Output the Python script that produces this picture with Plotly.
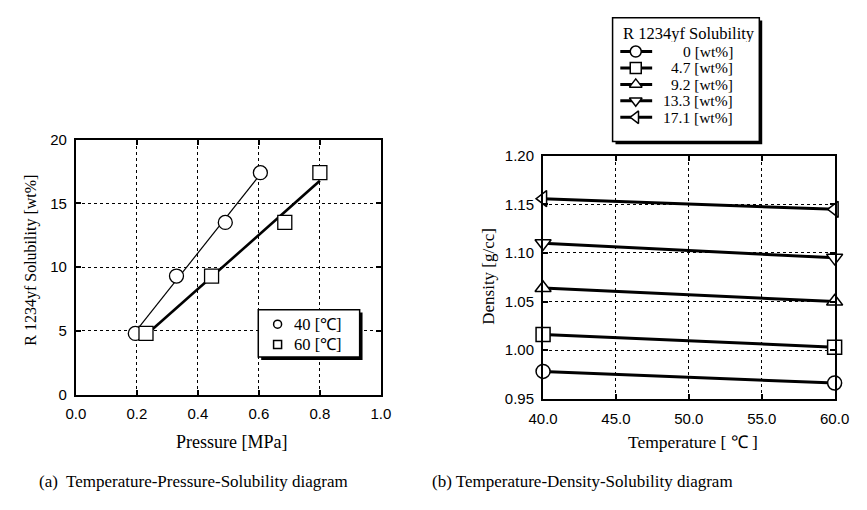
import numpy as np
import plotly.graph_objects as go

W, H = 867, 510

# ---------- data: (a) Temperature-Pressure-Solubility ----------
p40 = [0.195, 0.33, 0.49, 0.605]
s40 = [4.8, 9.3, 13.5, 17.4]
p60 = [0.23, 0.445, 0.685, 0.80]
s60 = [4.8, 9.3, 13.5, 17.4]
temp_labels_a = ["40 [℃]", "60 [℃]"]
symbols_a = ["circle", "square"]

# ---------- data: (b) Temperature-Density-Solubility ----------
temps = [40.0, 60.0]
sol_labels = ["0", "4.7", "9.2", "13.3", "17.1"]
dens_0 = [0.978, 0.966]
dens_47 = [1.016, 1.003]
dens_92 = [1.064, 1.050]
dens_133 = [1.110, 1.095]
dens_171 = [1.156, 1.145]
symbols_b = ["circle", "square", "triangle-up", "triangle-down", "triangle-left"]

SERIF = "Liberation Serif, Times New Roman, serif"
SANS = "Liberation Sans, Arial, sans-serif"


def px(x):
    return x / W


def py(y):
    return 1 - y / H


fig = go.Figure()


# fitted straight lines for (a)
def fit_line(x, y):
    k, b = np.polyfit(x, y, 1)
    xs = [min(x), max(x)]
    return xs, [k * v + b for v in xs]


lx, ly = fit_line(p40, s40)
fig.add_trace(go.Scatter(x=lx, y=ly, mode="lines", line=dict(color="black", width=1.2),
                         xaxis="x", yaxis="y", hoverinfo="skip"))
lx, ly = fit_line(p60, s60)
fig.add_trace(go.Scatter(x=lx, y=ly, mode="lines", line=dict(color="black", width=2.6),
                         xaxis="x", yaxis="y", hoverinfo="skip"))

for xs, ys, sym, nm in zip([p40, p60], [s40, s60], symbols_a, temp_labels_a):
    fig.add_trace(go.Scatter(x=xs, y=ys, mode="markers", cliponaxis=False, name=nm,
                             marker=dict(symbol=sym, size=14, color="white",
                                         line=dict(color="black", width=1.3)),
                             xaxis="x", yaxis="y"))

# (b)
series = [dens_0, dens_47, dens_92, dens_133, dens_171]
for lab, d, sym in zip(sol_labels, series, symbols_b):
    fig.add_trace(go.Scatter(x=temps, y=d, mode="lines+markers", cliponaxis=False,
                             name=f"{lab} [wt%]",
                             line=dict(color="black", width=3),
                             marker=dict(symbol=sym, size=14, color="white",
                                         line=dict(color="black", width=1.5)),
                             xaxis="x2", yaxis="y2"))

axis_common = dict(showline=True, linecolor="black", linewidth=2, mirror="ticks",
                   ticks="inside", ticklen=5, tickwidth=1.5, tickcolor="black",
                   showgrid=True, gridcolor="black", gridwidth=0.8, griddash="dot",
                   zeroline=False, tickfont=dict(family=SANS, size=15, color="black"))

fig.update_layout(
    width=W, height=H, margin=dict(l=0, r=0, t=0, b=0),
    paper_bgcolor="white", plot_bgcolor="rgba(0,0,0,0)", showlegend=False,
    xaxis=dict(domain=[px(63), px(379)], range=[0, 1], dtick=0.2, tickformat=".1f",
               anchor="y", ticklabelstandoff=4, **axis_common),
    yaxis=dict(domain=[py(399), py(135)], range=[0, 20], dtick=5, anchor="x",
               ticklabelstandoff=4, **axis_common),
    xaxis2=dict(domain=[px(547), px(849)], range=[40, 60], dtick=5, tickformat=".1f",
                anchor="y2", ticklabelstandoff=5, **axis_common),
    yaxis2=dict(domain=[py(403), py(152)], range=[0.95, 1.20], dtick=0.05, tickformat=".2f",
                anchor="x2", ticklabelstandoff=4, **axis_common),
    # overlay axes in pixel units, used only to place the legend boxes and glyphs
    xaxis3=dict(domain=[0, 1], range=[0, W], visible=False, anchor="y3", fixedrange=True),
    yaxis3=dict(domain=[0, 1], range=[H, 0], visible=False, anchor="x3", fixedrange=True),
)


# legend boxes with shadows (pixel coordinates on the overlay axes)
def box(x0, y0, x1, y1, off=3):
    fig.add_shape(type="rect", xref="x3", yref="y3", layer="below",
                  x0=x0 + off, x1=x1 + off, y0=y0 + off, y1=y1 + off,
                  fillcolor="black", line=dict(width=0))
    fig.add_shape(type="rect", xref="x3", yref="y3", layer="below",
                  x0=x0, x1=x1, y0=y0, y1=y1,
                  fillcolor="white", line=dict(color="black", width=1.5))


box(252, 311, 357, 360)
box(619, 9, 771, 137)

# ---- legend (a) content ----
rows_a = [326, 347]
for sym, lab, ry in zip(symbols_a, temp_labels_a, rows_a):
    fig.add_trace(go.Scatter(x=[272], y=[ry], mode="markers", xaxis="x3", yaxis="y3",
                             marker=dict(symbol=sym, size=8, color="white",
                                         line=dict(color="black", width=1.5)),
                             hoverinfo="skip", cliponaxis=False))
    fig.add_annotation(text=lab, x=px(287), y=py(ry), xref="paper", yref="paper",
                       showarrow=False, xanchor="left", yanchor="middle", height=20,
                       valign="middle",
                       font=dict(family=SERIF, size=16.5, color="black"))

# ---- legend (b) content ----
fig.add_annotation(text="R 1234yf Solubility", x=px(628), y=py(25), xref="paper", yref="paper",
                   showarrow=False, xanchor="left", yanchor="middle", height=18,
                   font=dict(family=SERIF, size=16.5, color="black"))
rows_b = [44, 61, 78, 95, 112]
for sym, lab, ry in zip(symbols_b, sol_labels, rows_b):
    fig.add_trace(go.Scatter(x=[627, 660], y=[ry, ry], mode="lines", xaxis="x3", yaxis="y3",
                             line=dict(color="black", width=3), hoverinfo="skip",
                             cliponaxis=False))
    fig.add_trace(go.Scatter(x=[643], y=[ry], mode="markers", xaxis="x3", yaxis="y3",
                             marker=dict(symbol=sym, size=11, color="white",
                                         line=dict(color="black", width=1.5)),
                             hoverinfo="skip", cliponaxis=False))
    fig.add_annotation(text=f"{lab} [wt%]", x=px(746), y=py(ry), xref="paper", yref="paper",
                       showarrow=False, xanchor="right", yanchor="middle", height=17,
                       font=dict(family=SERIF, size=15.5, color="black"))

ann = [
    dict(text="R 1234yf Solubility [wt%]", x=px(17), y=py(260), textangle=-90, size=16),
    dict(text="Pressure [MPa]", x=px(224), y=py(448), size=18),
    dict(text="Density [g/cc]", x=px(491), y=py(277), textangle=-90, size=17),
    dict(text="Temperature [ ℃ ]", x=px(702), y=py(448), size=17.5),
    dict(text="(a)  Temperature-Pressure-Solubility diagram", x=px(185), y=py(489), size=17),
]
for a in ann:
    size = a.pop("size")
    fig.add_annotation(xref="paper", yref="paper", showarrow=False, xanchor="center",
                       yanchor="middle", font=dict(family=SERIF, size=size, color="black"), **a)
fig.add_annotation(text="(b) Temperature-Density-Solubility diagram", x=px(430), y=py(489),
                   xref="paper", yref="paper", showarrow=False, xanchor="left", yanchor="middle",
                   font=dict(family=SERIF, size=17, color="black"))

fig.write_html("out.html")
